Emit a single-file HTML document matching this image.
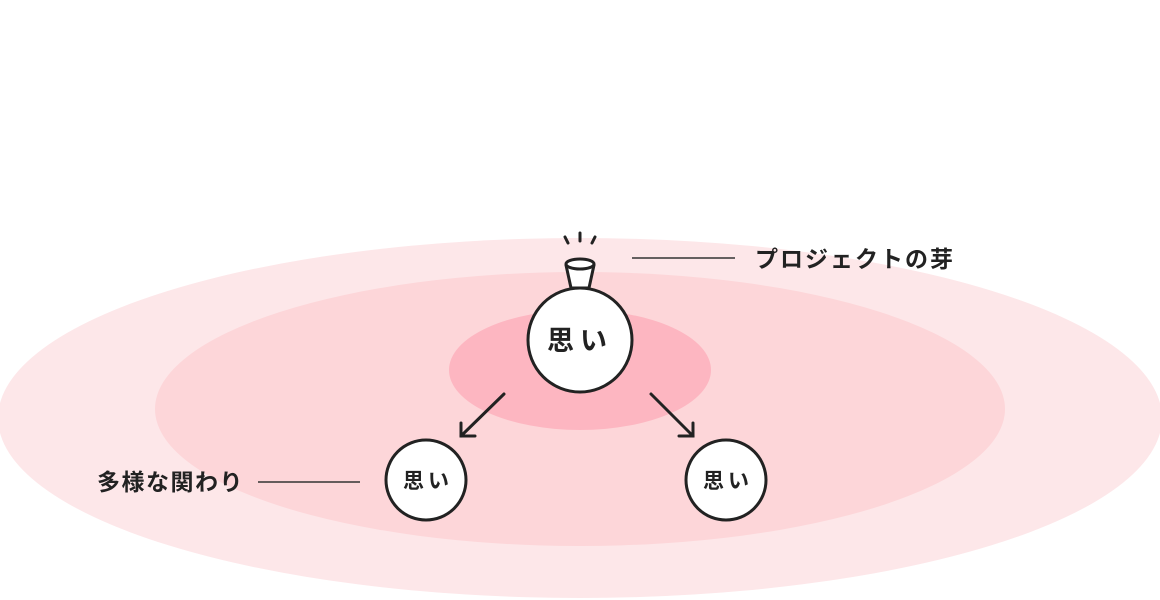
<!DOCTYPE html>
<html><head><meta charset="utf-8"><style>
html,body{margin:0;padding:0;background:#fff;width:1160px;height:600px;overflow:hidden}
text{font-family:"Liberation Sans","Noto Sans CJK JP",sans-serif;font-weight:bold;fill:#222}
</style></head><body>
<svg width="1160" height="600" viewBox="0 0 1160 600" xmlns="http://www.w3.org/2000/svg">
<ellipse cx="580" cy="418" rx="582" ry="180" fill="#fde7e9"/>
<ellipse cx="580" cy="409" rx="425" ry="137" fill="#fdd6d9"/>
<ellipse cx="580" cy="370" rx="131" ry="60" fill="#fdb6c1"/>
<g stroke="#222" stroke-width="3" stroke-linecap="round" fill="none">
<line x1="565" y1="237" x2="568" y2="243"/>
<line x1="580" y1="233" x2="580" y2="241"/>
<line x1="595" y1="237" x2="592" y2="243"/>
<path d="M566 265 L571 288 L589 288 L594 265" fill="#fff"/>
<ellipse cx="580" cy="264" rx="14" ry="5" fill="#fff"/>
<circle cx="580" cy="340" r="52" fill="#fff"/>
<circle cx="426" cy="480" r="40" fill="#fff"/>
<circle cx="726" cy="480" r="40" fill="#fff"/>
<line x1="504" y1="394" x2="461" y2="436"/>
<path d="M461 423 L461 436 L475 436"/>
<line x1="651" y1="394" x2="693" y2="436"/>
<path d="M693 423 L693 436 L679 436"/>
</g>
<g stroke="#333" stroke-width="1.5">
<line x1="632" y1="258" x2="735" y2="258"/>
<line x1="258" y1="482" x2="360" y2="482"/>
</g>
<text x="580" y="350" font-size="27" text-anchor="middle" letter-spacing="6">思い</text>
<text x="428" y="488" font-size="21" text-anchor="middle" letter-spacing="4">思い</text>
<text x="728" y="488" font-size="21" text-anchor="middle" letter-spacing="4">思い</text>
<text x="755" y="267" font-size="23" letter-spacing="2">プロジェクトの芽</text>
<text x="97" y="490" font-size="23" letter-spacing="1.5">多様な関わり</text>
</svg>
</body></html>
